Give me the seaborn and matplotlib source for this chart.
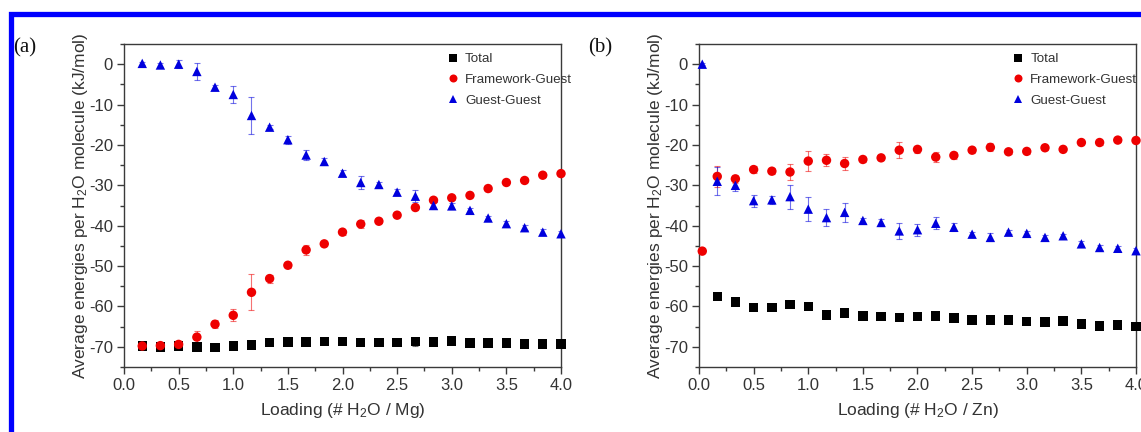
import numpy as np
import pandas as pd
import matplotlib
matplotlib.use("Agg")
import matplotlib.pyplot as plt
import seaborn as sns
from matplotlib.patches import Rectangle
from matplotlib.ticker import MultipleLocator

# ---------------- data ----------------
series_names = ["Total", "Framework-Guest", "Guest-Guest"]
series_colors = ["#000000", "#ee0000", "#0000dd"]
series_markers = ["s", "o", "^"]

loading = [0.167, 0.333, 0.5, 0.667, 0.833, 1.0, 1.167, 1.333, 1.5, 1.667, 1.833, 2.0,
           2.167, 2.333, 2.5, 2.667, 2.833, 3.0, 3.167, 3.333, 3.5, 3.667, 3.833, 4.0]
loading_zero = [0.03]

# Panel (a): Mg
mg_total = [-69.8, -70.0, -69.8, -70.0, -70.1, -69.8, -69.5, -69.0, -68.8, -68.8, -68.7, -68.7,
            -69.0, -69.0, -68.9, -68.7, -68.8, -68.6, -69.1, -69.1, -69.1, -69.3, -69.3, -69.3]
mg_total_err = [0.3, 0.3, 0.8, 0.3, 0.3, 0.3, 0.3, 0.3, 0.3, 0.3, 0.3, 0.3,
                0.3, 0.3, 0.3, 1.0, 0.3, 0.8, 0.3, 0.3, 0.3, 0.3, 0.3, 0.3]
mg_fg = [-69.8, -69.7, -69.4, -67.6, -64.4, -62.2, -56.5, -53.1, -49.8, -46.0, -44.5, -41.6,
         -39.6, -38.9, -37.4, -35.5, -33.7, -33.1, -32.5, -30.8, -29.3, -28.8, -27.5, -27.1]
mg_fg_err = [0.4, 0.4, 0.8, 1.5, 1.0, 1.5, 4.5, 1.0, 0.6, 1.3, 0.6, 0.6,
             1.0, 0.5, 0.5, 0.6, 0.5, 0.5, 0.5, 0.5, 0.5, 0.5, 0.5, 0.5]
mg_gg = [0.2, -0.2, 0.0, -1.8, -5.7, -7.5, -12.7, -15.6, -18.7, -22.5, -24.1, -27.0,
         -29.3, -29.8, -31.7, -32.7, -35.0, -35.1, -36.2, -38.1, -39.5, -40.5, -41.6, -42.0]
mg_gg_err = [0.4, 0.4, 1.0, 2.0, 0.6, 2.0, 4.5, 0.5, 1.0, 1.2, 0.8, 0.8,
             1.5, 0.6, 0.8, 1.5, 0.8, 0.8, 0.6, 0.5, 0.6, 0.6, 0.8, 0.6]

# Panel (b): Zn
zn_total = [-57.6, -58.9, -60.2, -60.2, -59.5, -60.0, -62.1, -61.6, -62.4, -62.5, -62.7, -62.5,
            -62.4, -62.9, -63.4, -63.4, -63.4, -63.8, -63.9, -63.6, -64.3, -64.8, -64.6, -65.0]
zn_total_err = [0.3] * 24
zn_fg = [-46.3, -27.8, -28.4, -26.1, -26.5, -26.7, -24.0, -23.8, -24.6, -23.6, -23.2, -21.3, -21.1,
         -23.0, -22.6, -21.3, -20.6, -21.7, -21.6, -20.7, -21.1, -19.4, -19.4, -18.8, -18.9]
zn_fg_err = [0.3, 2.5, 1.0, 0.8, 0.8, 2.0, 2.5, 1.5, 1.5, 0.6, 0.6, 2.0, 0.8,
             1.2, 0.8, 0.6, 1.0, 0.6, 0.6, 0.5, 0.5, 0.5, 0.5, 0.5, 0.5]
zn_gg = [0.0, -29.0, -30.0, -33.8, -33.6, -32.8, -35.9, -38.0, -36.7, -38.7, -39.2, -41.3, -41.0,
         -39.4, -40.4, -42.1, -42.9, -41.6, -41.9, -42.9, -42.5, -44.5, -45.4, -45.6, -46.2]
zn_gg_err = [0.2, 3.5, 1.5, 1.5, 1.0, 3.0, 3.0, 2.2, 2.3, 0.6, 0.8, 2.0, 1.5,
             1.5, 1.0, 0.6, 1.0, 0.5, 0.5, 0.6, 0.5, 0.6, 0.6, 0.6, 0.6]

x_ticks = [0.0, 0.5, 1.0, 1.5, 2.0, 2.5, 3.0, 3.5, 4.0]
y_ticks = [0, -10, -20, -30, -40, -50, -60, -70]


def frame(x, y, e, name, panel):
    return pd.DataFrame({"loading": x, "energy": y, "err": e, "series": name, "panel": panel})


df = pd.concat([
    frame(loading, mg_total, mg_total_err, "Total", "a"),
    frame(loading, mg_fg, mg_fg_err, "Framework-Guest", "a"),
    frame(loading, mg_gg, mg_gg_err, "Guest-Guest", "a"),
    frame(loading, zn_total, zn_total_err, "Total", "b"),
    frame(loading_zero + loading, zn_fg, zn_fg_err, "Framework-Guest", "b"),
    frame(loading_zero + loading, zn_gg, zn_gg_err, "Guest-Guest", "b"),
], ignore_index=True)

# ---------------- style ----------------
sns.set_theme(style="ticks")
plt.rcParams["font.family"] = ["Liberation Sans", "DejaVu Sans"]
plt.rcParams["mathtext.fontset"] = "custom"
plt.rcParams["mathtext.rm"] = "Liberation Sans"
plt.rcParams["mathtext.it"] = "Liberation Sans:italic"

W, H = 1141, 432
fig = plt.figure(figsize=(W / 100, H / 100), dpi=100)
fig.patch.set_facecolor("white")

ax_rects = [
    [124 / W, (H - 367) / H, 437 / W, 323 / H],
    [699 / W, (H - 367) / H, 437 / W, 323 / H],
]
metals = {"a": "Mg", "b": "Zn"}
panel_label_x = {"a": 13 / W, "b": 588 / W}
legend_x = {"a": 0.716, "b": 0.694}

text_col = "#333333"
spine_col = "#3a3a3a"

for rect, panel in zip(ax_rects, ["a", "b"]):
    ax = fig.add_axes(rect)
    sub = df[df["panel"] == panel]
    for name, col, mk in zip(series_names, series_colors, series_markers):
        s = sub[sub["series"] == name]
        ax.errorbar(s["loading"], s["energy"], yerr=s["err"], fmt="none",
                    ecolor=col, elinewidth=0.8, capsize=2.5, capthick=0.8,
                    alpha=0.55, zorder=2)
    sns.scatterplot(data=sub, x="loading", y="energy", hue="series", style="series",
                    hue_order=series_names, style_order=series_names,
                    palette=dict(zip(series_names, series_colors)),
                    markers=dict(zip(series_names, series_markers)),
                    s=46, linewidth=0, edgecolor="none", ax=ax, zorder=3, clip_on=False)

    ax.set_xlim(0, 4.0)
    ax.set_ylim(-75, 5)
    ax.set_xticks(x_ticks)
    ax.set_xticklabels([f"{t:.1f}" for t in x_ticks])
    ax.set_yticks(y_ticks)
    ax.set_yticklabels([str(t) for t in y_ticks])
    ax.xaxis.set_minor_locator(MultipleLocator(0.25))
    ax.yaxis.set_minor_locator(MultipleLocator(5))
    ax.tick_params(which="major", direction="out", length=5, width=1, color=spine_col,
                   labelsize=12, labelcolor=text_col, pad=3)
    ax.tick_params(which="minor", direction="out", length=3, width=1, color=spine_col)
    ax.tick_params(top=False, right=False, which="both")
    for sp in ax.spines.values():
        sp.set_visible(True)
        sp.set_color(spine_col)
        sp.set_linewidth(1.0)

    ax.set_xlabel(f"Loading (# H$_2$O / {metals[panel]})", fontsize=12.5, color=text_col, labelpad=6)
    ax.set_ylabel("Average energies per H$_2$O molecule (kJ/mol)", fontsize=12.5,
                  color=text_col, labelpad=-1)

    leg = ax.legend(loc="upper left", bbox_to_anchor=(legend_x[panel], 0.997), frameon=False,
                    fontsize=9.6, handletextpad=0.3, handlelength=1.2, labelspacing=0.62,
                    borderaxespad=0.2, markerscale=0.85, title=None)
    for t in leg.get_texts():
        t.set_color(text_col)

    fig.text(panel_label_x[panel], (H - 48) / H, f"({panel})", fontsize=15,
             family=["Liberation Serif", "DejaVu Serif"], color="#111111", va="center")

# blue frame
fig.patches.append(Rectangle((10.5 / W, -0.2), 1.3, (H - 14.2) / H + 0.2,
                             transform=fig.transFigure, fill=False,
                             edgecolor="#0000ff", linewidth=3.8, zorder=10))

fig.savefig("out.png", dpi=100, facecolor="white")
